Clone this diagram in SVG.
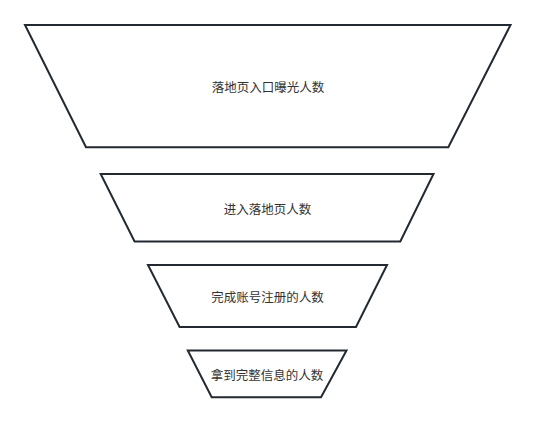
<svg xmlns="http://www.w3.org/2000/svg" width="535" height="423" viewBox="0 0 535 423">
<style>
.shape{fill:#ffffff;stroke:#222930;stroke-width:2;stroke-linejoin:miter}
.label{font-family:"Noto Sans CJK SC","Liberation Sans",sans-serif;font-size:12.5px;fill:#333333;text-anchor:middle;dominant-baseline:central}
</style>
<rect width="535" height="423" fill="#ffffff"/>
<g id="node1">
<polygon class="shape" points="25,25 510.5,25 448.3,147.3 86,147.3"/>
<text class="label" x="268" y="86">落地页入口曝光人数</text>
</g>
<g id="node2">
<polygon class="shape" points="100.7,174 433.5,174 400.3,241.5 134.6,241.5"/>
<text class="label" x="267.5" y="208">进入落地页人数</text>
</g>
<g id="node3">
<polygon class="shape" points="148,265 387,265 356,327 179.6,327"/>
<text class="label" x="267.5" y="296">完成账号注册的人数</text>
</g>
<g id="node4">
<polygon class="shape" points="187.8,350.5 346.5,350.5 321,397.3 211.7,397.3"/>
<text class="label" x="267" y="374">拿到完整信息的人数</text>
</g>
<g id="connectors"></g>
</svg>
